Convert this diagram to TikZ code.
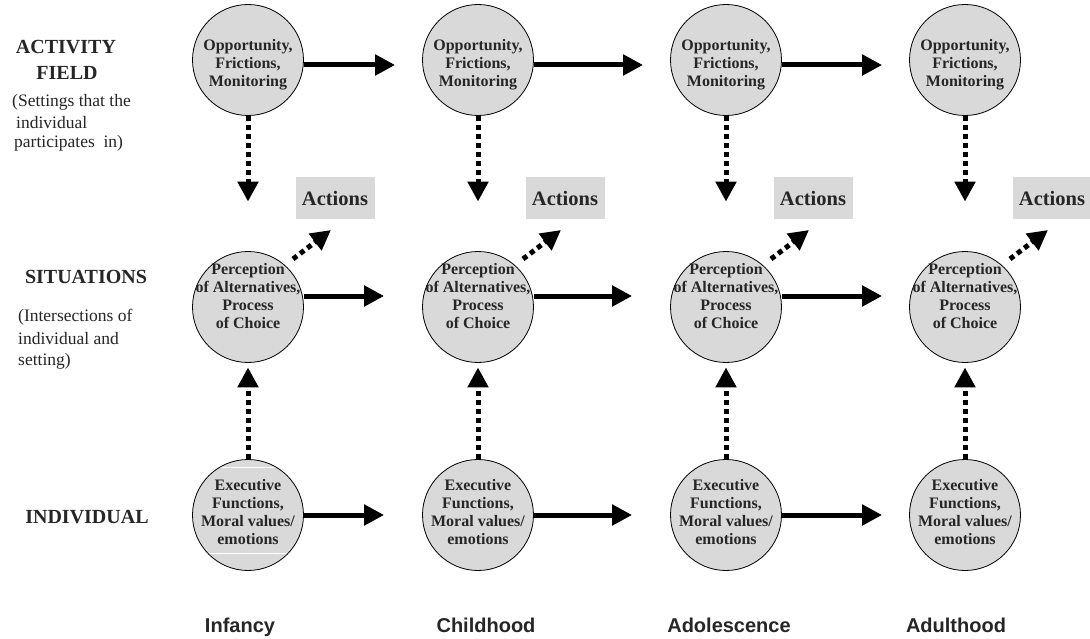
\documentclass[tikz,border=0pt]{standalone}
\usepackage{fontspec}
\setmainfont{Liberation Serif}
\newfontfamily\arialfont{Liberation Sans}
\usetikzlibrary{arrows.meta}
\definecolor{cgray}{HTML}{D9D9D9}
\definecolor{ink}{HTML}{262626}
\begin{document}
\begin{tikzpicture}[x=1pt,y=-1pt,
  circ/.style={circle, draw=black, line width=0.8pt, fill=cgray, minimum size=111pt, inner sep=0pt},
  ctext/.style={align=center, font=\bfseries\fontsize{16}{18}\selectfont, text=ink, inner sep=0pt},
  actbox/.style={fill=cgray, minimum width=79pt, minimum height=42pt, inner sep=0pt, text=ink, font=\bfseries\fontsize{20.5}{24}\selectfont},
  harrow/.style={line width=5pt, -{Triangle[width=20pt,length=20pt]}},
  varrow/.style={line width=5pt, dash pattern=on 5pt off 4pt, -{Triangle[width=20pt,length=20pt]}},
  rowlab/.style={font=\bfseries\fontsize{20}{26}\selectfont, text=ink, inner sep=0pt},
  rownote/.style={font=\fontsize{17.5}{21}\selectfont, text=ink, inner sep=0pt, anchor=west},
  collab/.style={font=\arialfont\bfseries\fontsize{20}{24}\selectfont, text=ink, inner sep=0pt, anchor=base}
]
\useasboundingbox (0,0) rectangle (1090,639);
\fill[white] (0,0) rectangle (1090,639);

% circles and action boxes
\foreach \i/\x in {1/248,2/478,3/726,4/965} {
  \node[circ] (t\i) at (\x,60) {};
  \node[ctext] (tt\i) at ([yshift=-5pt]t\i.center) {Opportunity,\\Frictions,\\Monitoring};
  \node[circ] (s\i) at (\x,307) {};
  \node[ctext] (st\i) at ([yshift=11pt]s\i.center) {Perception\\of Alternatives,\\Process\\of Choice};
  \node[circ] (b\i) at (\x,515) {};
  \node[ctext] (bt\i) at ([yshift=3pt]b\i.center) {Executive\\Functions,\\Moral values/\\emotions};
  \node[actbox] (a\i) at (\x+87,198) {Actions};
}

% white artifact lines in the first individual circle
\begin{scope}
  \clip (b1.center) circle (54.6pt);
  \draw[white, line width=0.8pt] (180,467) -- (320,467);
  \draw[white, line width=0.8pt] (180,553) -- (320,553);
\end{scope}

% horizontal arrows
\foreach \i/\j/\g in {1/2/38,2/3/38,3/4/27} {
  \draw[harrow, shorten >=27pt] ([yshift=-5pt]t\i.east) -- ([yshift=-5pt]t\j.west);
  \draw[harrow, shorten >=\g pt] ([yshift=11pt]s\i.east) -- ([yshift=11pt]s\j.west);
  \draw[harrow, shorten >=\g pt] (b\i.east) -- (b\j.west);
}

% vertical and diagonal dotted arrows
\foreach \i in {1,2,3,4} {
  \draw[varrow, shorten >=49.5pt] (t\i.south) -- (s\i.north);
  \draw[varrow, shorten >=4.5pt] (b\i.north) -- (s\i.south);
  \draw[varrow] ([shift={(45pt,48pt)}]s\i.center) -- ([shift={(-4pt,-32pt)}]a\i.center);
}

% row labels
\node[rowlab] (l1) at (66,47) {ACTIVITY};
\node[rowlab] (l2) at (67,73) {FIELD};
\node[rownote] (n1) at (12,102) {(Settings that the};
\node[rownote] (n2) at (16,123) {individual};
\node[rownote] (n3) at (14,143) {participates\ \ in)};
\node[rowlab] (l3) at (86,277) {SITUATIONS};
\node[rownote] (n4) at (18,317) {(Intersections of};
\node[rownote] (n5) at (18,339) {individual and};
\node[rownote] (n6) at (18,361) {setting)};
\node[rowlab] (l4) at (87,517) {INDIVIDUAL};

% column labels
\node[collab] (c1) at (240,632) {Infancy};
\node[collab] (c2) at (486,632) {Childhood};
\node[collab] (c3) at (729,632) {Adolescence};
\node[collab] (c4) at (956,632) {Adulthood};
\end{tikzpicture}
\end{document}
